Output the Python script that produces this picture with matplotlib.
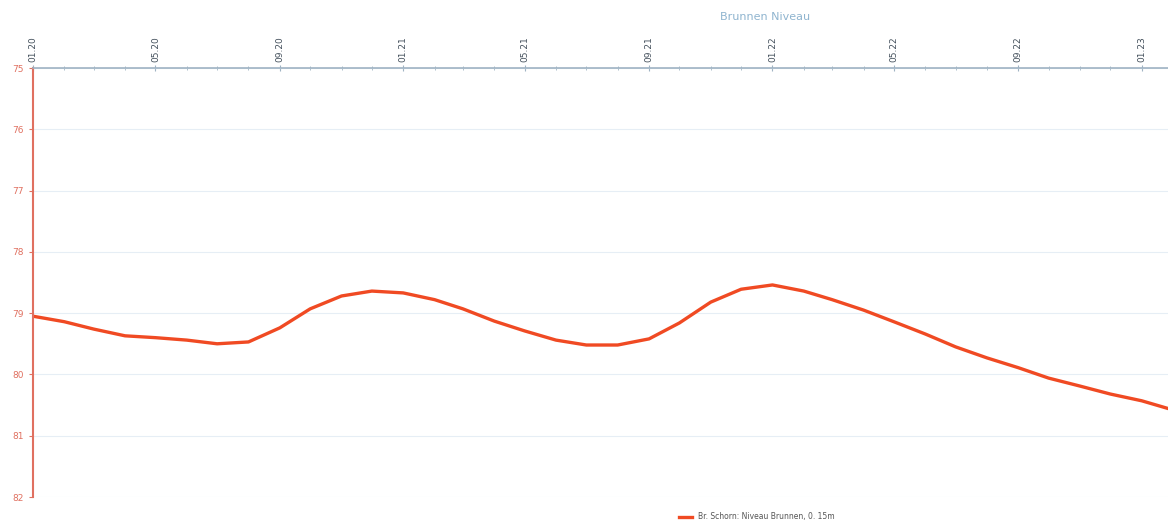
import matplotlib.pyplot as plt
import matplotlib.dates as mdates
import numpy as np
import pandas as pd

# Monthly well level readings (m below reference), Jan 2020 - Feb 2023
months = pd.date_range('2020-01-01', '2023-02-01', freq='MS')
level = [79.05, 79.14, 79.26, 79.37, 79.40, 79.44, 79.50, 79.47, 79.24, 78.93,
         78.72, 78.64, 78.67, 78.78, 78.93, 79.13, 79.29, 79.44, 79.52, 79.52,
         79.42, 79.16, 78.82, 78.61, 78.54, 78.64, 78.78, 78.95, 79.14, 79.34,
         79.55, 79.73, 79.89, 80.06, 80.19, 80.32, 80.43, 80.58]
y_ticks = [75, 76, 77, 78, 79, 80, 81, 82]

line_color = '#f04a23'
axis_red = '#e07060'
axis_blue = '#9fb3c3'

fig = plt.figure(figsize=(11.68, 5.23), dpi=100)
ax = fig.add_axes([33 / 1168, 26 / 523, 1135 / 1168, 429 / 523])

ax.plot(months, level, color=line_color, linewidth=2.4,
        label='Br. Schorn: Niveau Brunnen, 0. 15m')

# inverted depth axis
ax.set_ylim(82, 75)
ax.set_yticks(y_ticks)
ax.tick_params(axis='y', colors=axis_red, labelsize=6.5, length=3, width=0.8,
               labelcolor=axis_red)
ax.grid(axis='y', color='#e6eef5', linewidth=0.8)

# dates along the top
ax.set_xlim(pd.Timestamp('2020-01-01'), pd.Timestamp('2023-01-27'))
ax.xaxis.tick_top()
ax.xaxis.set_major_locator(mdates.MonthLocator(bymonth=[1, 5, 9]))
ax.xaxis.set_minor_locator(mdates.MonthLocator())
ax.xaxis.set_major_formatter(mdates.DateFormatter('%m.%y'))
ax.tick_params(axis='x', which='major', colors=axis_blue, labelcolor='#44505c',
               labelsize=6.5, labelrotation=90, length=4, pad=2, direction='inout')
ax.tick_params(axis='x', which='minor', colors=axis_blue, length=3, direction='inout')

for side in ['right', 'bottom']:
    ax.spines[side].set_visible(False)
ax.spines['top'].set_color(axis_blue)
ax.spines['top'].set_linewidth(1.2)
ax.spines['left'].set_color(axis_red)
ax.spines['left'].set_linewidth(1.5)

fig.text(0.655, 0.962, 'Brunnen Niveau', color='#8fb4cf', fontsize=8, ha='center')

fig.legend(loc='lower center', bbox_to_anchor=(0.648, -0.01), frameon=False,
           fontsize=5.5, handlelength=1.8, labelcolor='#555555')

fig.savefig('out.png', dpi=100)
